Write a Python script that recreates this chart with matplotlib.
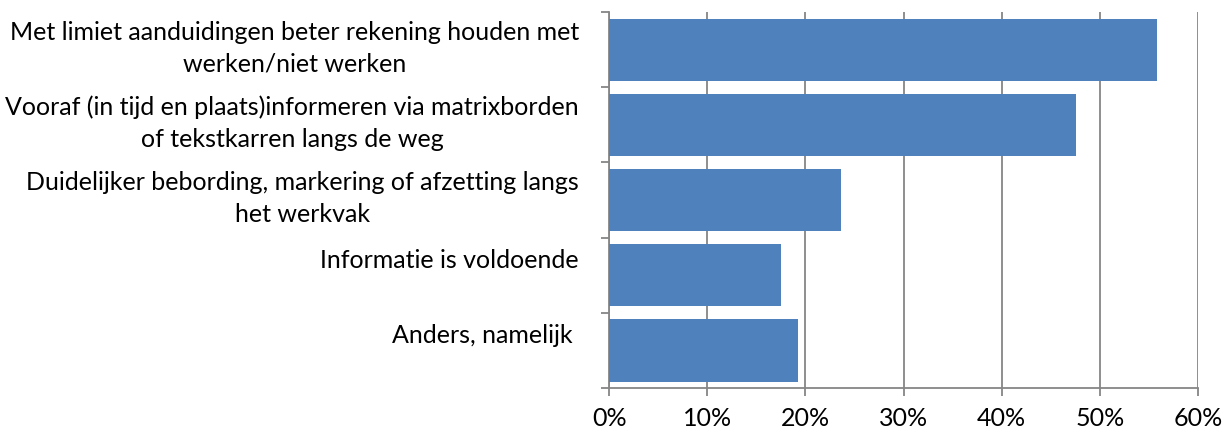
import matplotlib.pyplot as plt
import matplotlib.transforms as mtransforms
import numpy as np
from matplotlib.ticker import FixedLocator, PercentFormatter

# data
categories = [
    "Met limiet aanduidingen beter rekening houden met\nwerken/niet werken",
    "Vooraf (in tijd en plaats)informeren via matrixborden\nof tekstkarren langs de weg",
    "Duidelijker bebording, markering of afzetting langs\nhet werkvak",
    "Informatie is voldoende",
    "Anders, namelijk ",
]
values = [55.8, 47.6, 23.6, 17.5, 19.2]
xticks = [0, 10, 20, 30, 40, 50, 60]

plt.rcParams['font.family'] = ['Lato', 'DejaVu Sans']

fig = plt.figure(figsize=(12.26, 4.34), dpi=100)
ax = fig.add_axes([0.497, 0.106, 0.48, 0.866])

grey = '#868686'
y = np.arange(len(categories))
ax.barh(y, values, height=0.83, color='#4F81BD', zorder=3)

ax.set_xlim(0, 60)
ax.set_ylim(len(categories) - 0.5, -0.5)
ax.set_xticks(xticks)
ax.xaxis.set_major_formatter(PercentFormatter(decimals=0))
ax.grid(axis='x', color=grey, linewidth=1.3, zorder=0)

ax.set_yticks(y)
ax.set_yticklabels(categories, ha='right', multialignment='center', linespacing=1.45)
ax.yaxis.set_minor_locator(FixedLocator(np.arange(len(categories) + 1) - 0.5))
ax.tick_params(axis='y', which='major', length=0, pad=22, labelsize=18)
ax.tick_params(axis='y', which='minor', length=6, color=grey, width=1.3)
ax.tick_params(axis='x', length=6, color=grey, width=1.3, labelsize=18, pad=8)

# excel draws the labels a bit above the bar centre
for lbl in ax.get_yticklabels():
    dy = 8 if '\n' in lbl.get_text() else 17
    off = mtransforms.ScaledTranslation(0, dy / 100, fig.dpi_scale_trans)
    lbl.set_transform(lbl.get_transform() + off)

for s in ['top', 'right']:
    ax.spines[s].set_visible(False)
for s in ['left', 'bottom']:
    ax.spines[s].set_color(grey)
    ax.spines[s].set_linewidth(1.3)

fig.savefig('out.png', dpi=100)
